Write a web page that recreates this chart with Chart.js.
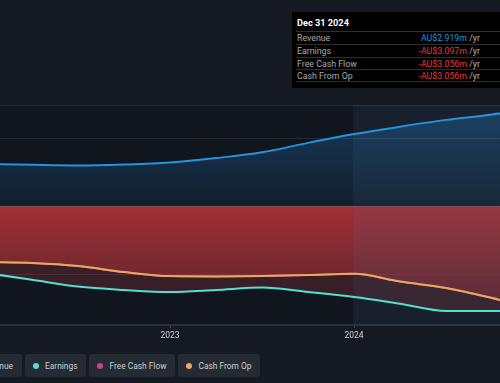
<!DOCTYPE html>
<html>
<head>
<meta charset="utf-8">
<script src="https://cdn.jsdelivr.net/npm/chart.js@4.4.1/dist/chart.umd.min.js"></script>
<style>
  html, body { margin:0; padding:0; background:#151a22; width:500px; height:383px; overflow:hidden; font-family: Roboto, "Noto Sans", sans-serif; }
  #wrap { position:relative; width:500px; height:383px; }
  #c { position:absolute; left:0; top:0; }
  #tip { position:absolute; left:292px; top:12px; width:220px; height:76px; background:#000; color:#fff; font-size:8.8px; }
  #tip .hd { position:absolute; left:5px; top:5px; font-weight:bold; font-size:9.2px; }
  #tip .row { position:absolute; left:4px; width:212px; height:12px; border-top:1px solid #2e2e2e; color:#a9a9a9; line-height:12.5px; }
  #tip .row span.l { position:absolute; left:1px; }
  #tip .row span.v { position:absolute; right:28px; }
  #tip .row span.u { color:#b5b5b5; }
  #legend { position:absolute; left:25px; top:354px; height:23px; display:flex; gap:3px; }
  .pill { position:relative; height:23px; background:#252b35; border-radius:3px; display:flex; align-items:center; padding:0 9px 0 8px; color:#cdcdcd; font-size:8.4px; white-space:nowrap; }
  .pill i { display:inline-block; width:6px; height:6px; border-radius:50%; margin-right:6px; }
  #revPill { position:absolute; right:calc(100% + 3px); top:0; }
</style>
</head>
<body>
<div id="wrap">
  <canvas id="c" width="500" height="344"></canvas>
  <div id="tip"></div>
  <div id="legend"></div>
</div>
<script>
// ---- data (AU$ millions, trailing twelve months) ----
const periods   = [2022.0, 2022.25, 2022.5, 2022.75, 2023.0, 2023.25, 2023.5, 2023.75, 2024.0, 2024.25, 2024.5, 2024.75, 2025.0];
const revenue   = [1.26, 1.23, 1.21, 1.24, 1.30, 1.43, 1.60, 1.88, 2.14, 2.36, 2.56, 2.72, 2.919];
const earnings  = [-1.97, -2.17, -2.37, -2.47, -2.53, -2.47, -2.40, -2.53, -2.68, -2.88, -3.09, -3.09, -3.097];
const freeCash  = [-1.64, -1.67, -1.76, -1.94, -2.06, -2.07, -2.06, -2.03, -1.99, -2.22, -2.41, -2.71, -3.056];
const cashOp    = [-1.64, -1.67, -1.76, -1.94, -2.06, -2.07, -2.06, -2.03, -1.99, -2.22, -2.41, -2.71, -3.056];
const xTicks    = [2023, 2024];
const yGrid     = [3, 2, 0, -2];
const seriesNames = ["Revenue", "Earnings", "Free Cash Flow", "Cash From Op"];
const tipDate   = "Dec 31 2024";
const tipValues = ["AU$2.919m", "-AU$3.097m", "-AU$3.056m", "-AU$3.056m"];

const COL = { rev:'#2394df', earn:'#52e0d0', fcf:'#c9458a', cfo:'#e8a95a' };

function pts(arr){ return periods.map((p,i)=>({x:p, y:arr[i]})); }

function grad(ctx, stops){
  const ch = ctx.chart; const a = ch.chartArea; if(!a) return 'transparent';
  const ys = ch.scales.y;
  const g = ch.ctx.createLinearGradient(0, a.top, 0, a.bottom);
  stops.forEach(([v,c]) => { const p = (ys.getPixelForValue(v)-a.top)/(a.bottom-a.top); g.addColorStop(Math.min(1,Math.max(0,p)), c); });
  return g;
}

const bgPlugin = {
  id:'bgp',
  beforeDraw(ch){
    const {ctx, chartArea:a} = ch;
    ctx.save(); ctx.fillStyle = '#11161e'; ctx.fillRect(a.left, a.top, a.right-a.left, a.bottom-a.top); ctx.restore();
  },
  beforeDatasetsDraw(ch){
    const {ctx, chartArea:a, scales} = ch;
    const x0 = scales.x.getPixelForValue(2024) - 1;
    ctx.save(); ctx.fillStyle = 'rgba(70,115,160,0.11)'; ctx.fillRect(x0, a.top, a.right-x0, a.bottom-a.top); ctx.restore();
  }
};

new Chart(document.getElementById('c'), {
  type:'line',
  data:{ datasets:[
    { label:seriesNames[0], data:pts(revenue), borderColor:COL.rev, borderWidth:2, pointRadius:0, cubicInterpolationMode:'monotone',
      fill:'origin', backgroundColor:(c)=>grad(c, [[3,'rgba(35,140,225,0.32)'],[0,'rgba(35,140,225,0.07)']]) },
    { label:seriesNames[3], data:pts(cashOp), borderColor:COL.cfo, borderWidth:2, pointRadius:0, cubicInterpolationMode:'monotone',
      fill:'origin', backgroundColor:(c)=>grad(c, [[0,'rgba(222,58,62,0.62)'],[-3.5,'rgba(222,58,62,0.14)']]) },
    { label:seriesNames[2], data:pts(freeCash), borderColor:COL.fcf, borderWidth:2, pointRadius:0, cubicInterpolationMode:'monotone', fill:false },
    { label:seriesNames[1], data:pts(earnings), borderColor:COL.earn, borderWidth:2, pointRadius:0, cubicInterpolationMode:'monotone',
      fill:'origin', backgroundColor:(c)=>grad(c, [[0,'rgba(200,60,70,0.24)'],[-3.5,'rgba(200,60,70,0.20)']]) },
  ]},
  options:{
    responsive:false, animation:false, events:[],
    layout:{ padding:{ top:105, left:0, right:0, bottom:0 } },
    plugins:{ legend:{display:false}, tooltip:{enabled:false}, filler:{ drawTime:'beforeDatasetsDraw' } },
    scales:{
      x:{ type:'linear', min:2022.076, max:2024.793,
          afterBuildTicks:(s)=>{ s.ticks = xTicks.map(v=>({value:v})); },
          ticks:{ color:'#d2d2d2', font:{ size:8.5, family:'Roboto' }, padding:3, autoSkip:false, maxRotation:0, callback:(v)=>String(v) },
          grid:{ display:true, drawOnChartArea:false, drawTicks:true, tickLength:3, color:'rgba(255,255,255,0.25)' },
          border:{ display:true, color:'#2c3139', width:2 } },
      y:{ min:-3.5, max:3,
          afterBuildTicks:(s)=>{ s.ticks = yGrid.map(v=>({value:v})); },
          afterFit:(s)=>{ s.width = 0; },
          ticks:{ display:false },
          grid:{ drawTicks:false, color:(c)=> c.tick && c.tick.value===0 ? 'rgba(200,200,200,0.35)' : 'rgba(255,255,255,0.09)', lineWidth:1 },
          border:{ display:false } }
    }
  },
  plugins:[bgPlugin]
});

// tooltip box
const tip = document.getElementById('tip');
let html = '<div class="hd">'+tipDate+'</div>';
const valCols = [COL.rev, '#e8383d', '#e8383d', '#e8383d'];
const rowTops = [19, 31.5, 44.5, 57];
seriesNames.forEach((n,i)=>{
  html += '<div class="row" style="top:'+rowTops[i]+'px"><span class="l">'+n+'</span><span class="v"><span style="color:'+valCols[i]+'">'+tipValues[i]+'</span><span class="u"> /yr</span></span></div>';
});
html += '<div class="row" style="top:69px;height:0"></div>';
tip.innerHTML = html;

// legend
const lg = document.getElementById('legend');
const dotCols = [COL.rev, COL.earn, COL.fcf, COL.cfo];
seriesNames.forEach((n,i)=>{
  const d = document.createElement('div'); d.className='pill'; if(i===0) d.id='revPill';
  d.innerHTML = '<i style="background:'+dotCols[i]+'"></i>'+n;
  lg.appendChild(d);
});
</script>
</body>
</html>
